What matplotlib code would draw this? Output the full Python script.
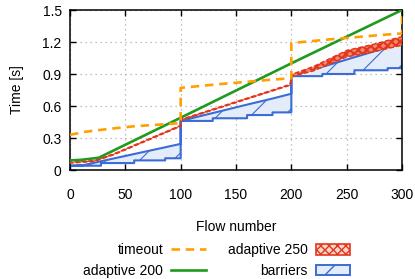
import matplotlib
matplotlib.use("Agg")
import matplotlib.pyplot as plt
from matplotlib.lines import Line2D
from matplotlib.patches import Patch
from matplotlib.ticker import FuncFormatter

plt.rcParams['font.family'] = ['Liberation Sans', 'DejaVu Sans']
plt.rcParams['font.size'] = 10

# ---- data ----
timeout_x = [0, 15, 35, 58, 80, 100, 100, 115, 135, 158, 180, 200, 200, 215, 235, 258, 280, 300, 300]
timeout_y = [0.33, 0.36, 0.385, 0.41, 0.425, 0.44, 0.77, 0.785, 0.805, 0.825, 0.845, 0.86,
             1.19, 1.205, 1.225, 1.245, 1.265, 1.28, 1.5]

adapt200_x = [0, 10, 26, 100, 150, 200, 300]
adapt200_y = [0.09, 0.095, 0.115, 0.49, 0.745, 1.0, 1.5]

adapt250_x = [0, 22, 40, 100, 100, 199, 200, 220, 250, 275, 300]
adapt250_lo = [0.065, 0.08, 0.145, 0.41, 0.465, 0.795, 0.875, 0.93, 1.06, 1.11, 1.17]
adapt250_hi = [0.073, 0.088, 0.153, 0.418, 0.473, 0.803, 0.895, 0.97, 1.12, 1.18, 1.25]

barriers_x = [0, 12, 25, 28, 28, 58, 58, 86, 86, 100, 100,
              129, 129, 160, 160, 183, 183, 200, 200,
              228, 228, 257, 257, 287, 287, 300]
barriers_lo = [0.04, 0.04, 0.04, 0.04, 0.065, 0.065, 0.09, 0.09, 0.11, 0.11, 0.46,
               0.46, 0.485, 0.485, 0.515, 0.515, 0.54, 0.54, 0.88,
               0.88, 0.90, 0.90, 0.935, 0.935, 0.955, 0.955]
barriers_hi = [0.04, 0.045, 0.075, 0.082, 0.082, 0.15, 0.15, 0.213, 0.213, 0.245, 0.46,
               0.534, 0.534, 0.613, 0.613, 0.67, 0.67, 0.715, 0.88,
               0.967, 0.967, 1.057, 1.057, 1.15, 1.15, 1.19]

xticks = [0, 50, 100, 150, 200, 250, 300]
yticks = [0, 0.3, 0.6, 0.9, 1.2, 1.5]

c_orange = '#ffa000'
c_green = '#1f9a1f'
c_red = '#e4361a'
c_blue = '#3a6cd6'

fig = plt.figure(figsize=(4.15, 2.79), dpi=100)
ax = fig.add_axes([70/415, 1-170/279, 332/415, 160/279])

with plt.rc_context({'hatch.linewidth': 0.8}):
    ax.fill_between(barriers_x, barriers_lo, barriers_hi, facecolor='#e4ecfa',
                    edgecolor=c_blue, hatch='/', linewidth=1.5, zorder=2)
with plt.rc_context({'hatch.linewidth': 1.6}):
    ax.fill_between(adapt250_x, adapt250_lo, adapt250_hi, facecolor='#f08a74',
                    edgecolor=c_red, hatch='xxxx', linewidth=1.1, linestyle=(0, (3, 1.5)), zorder=3)
ax.plot(adapt200_x, adapt200_y, color=c_green, lw=1.9, zorder=4)
ax.plot(timeout_x, timeout_y, color=c_orange, lw=1.9, dashes=(3.2, 2.2), zorder=5)

ax.set_xlim(0, 300)
ax.set_ylim(0, 1.5)
ax.set_xticks(xticks)
ax.set_yticks(yticks)
ax.yaxis.set_major_formatter(FuncFormatter(lambda v, p: '0' if v == 0 else f'{v:.1f}'))
ax.tick_params(direction='in', top=True, right=True, length=4, width=1.0,
               labelsize=10, colors='black')
ax.tick_params(axis='x', pad=13)
ax.tick_params(axis='y', pad=6)
ax.grid(True, color='#aaaaaa', linestyle=(0, (1, 3)), linewidth=0.9)
ax.set_axisbelow(True)
for s in ax.spines.values():
    s.set_linewidth(1.1)

ax.set_xlabel('Flow number', fontsize=10, labelpad=13)
ax.set_ylabel('Time [s]', fontsize=10, labelpad=13)

with plt.rc_context({'hatch.linewidth': 1.6}):
    h250 = Patch(facecolor='#f8d6cc', edgecolor=c_red, hatch='xxxx', linewidth=1.2)
with plt.rc_context({'hatch.linewidth': 0.8}):
    hbar = Patch(facecolor='#e4ecfa', edgecolor=c_blue, hatch='/', linewidth=1.4)
handles = [Line2D([], [], color=c_orange, lw=1.9, dashes=(3.2, 2.2)),
           Line2D([], [], color=c_green, lw=1.9),
           h250, hbar]
labels = ['timeout', 'adaptive 200', 'adaptive 250', 'barriers']
fig.legend(handles, labels, ncol=2, loc='center', bbox_to_anchor=(0.522, 0.066),
           frameon=False, markerfirst=False, handlelength=2.45, handleheight=0.8,
           handletextpad=0.6, columnspacing=1.6, labelspacing=0.45, fontsize=10,
           borderpad=0)

fig.savefig('out.png', dpi=100)
